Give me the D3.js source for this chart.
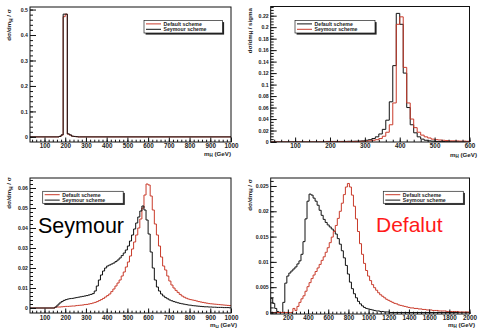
<!DOCTYPE html>
<html><head><meta charset="utf-8">
<script src="https://cdn.jsdelivr.net/npm/d3@7"></script>
<style>
html,body{margin:0;padding:0;background:#fff;}
svg{display:block;font-family:"Liberation Sans",Arial,Helvetica,sans-serif;}
</style></head><body>
<svg id="c" width="479" height="328"></svg>
<script>
// ---------------- DATA ----------------
// Panel 1 (m_H = 200 GeV), 10 GeV bins starting at 160
const p1Start = 160, p1Width = 10;
const p1Default = [0, 0.002, 0.007, 0.472, 0.482, 0.011, 0.007, 0.003, 0.0015, 0.0008, 0];
const p1Seymour = [0, 0.002, 0.008, 0.482, 0.482, 0.012, 0.008, 0.003, 0.002, 0.001, 0];
const p1XTicks = [100,200,300,400,500,600,700,800,900,1000];
const p1YTicks = [0,0.1,0.2,0.3,0.4,0.5];

// Panel 2 (m_H = 400 GeV), 10 GeV bins starting at 190
const p2Start = 190, p2Width = 10;
const p2Default = [0.001,
  0.001,0.001,0.001,0.001,0.001,0.0012,0.0012,0.0014,0.0016,0.002,
  0.003,0.004,0.006,0.009,0.014,0.022,0.038,0.07,0.133,0.224,
  0.205,0.12,0.06,0.03,0.016,0.009,0.005,0.003,0.002,0.0015,
  0.001,0.001,0.0008,0.0006,0.0005,0.0005,0.0004,0.0004,0.0003,0.0003];
const p2Seymour = [0.0005,
  0.0005,0.0005,0.0005,0.0006,0.0006,0.0007,0.0008,0.0009,0.001,0.0012,
  0.0015,0.002,0.003,0.004,0.006,0.01,0.017,0.03,0.068,0.205,
  0.218,0.13,0.068,0.04,0.025,0.017,0.012,0.009,0.007,0.005,
  0.004,0.0035,0.003,0.0025,0.002,0.002,0.0018,0.0015,0.0015,0.0012];
const p2XTicks = [100,200,300,400,500,600];
const p2YTicks = [0,0.02,0.04,0.06,0.08,0.1,0.12,0.14,0.16,0.18,0.2,0.22];

// Panel 3 (m_H = 600 GeV), 10 GeV bins starting at 150
const p3Start = 150, p3Width = 10;
const p3Default = [0.0005,0.0005,0.0005,0.0006,0.0007,
  0.0008,0.0008,0.0009,0.001,0.001,0.0012,0.0013,0.0014,0.0015,0.0017,
  0.0018,0.002,0.0022,0.0025,0.0028,0.0032,0.0037,0.0042,0.0048,0.0055,
  0.0062,0.007,0.0082,0.0095,0.011,0.0125,0.014,0.016,0.018,0.0205,
  0.023,0.026,0.0295,0.033,0.0365,0.04,0.0445,0.05,0.0565,0.062,
  0.0615,0.056,0.049,0.042,0.0365,0.031,0.0255,0.021,0.019,0.016,
  0.0135,0.0115,0.01,0.0088,0.0078,0.0068,0.006,0.0054,0.0049,0.0045,
  0.0042,0.004,0.0038,0.0035,0.0032,0.003,0.0028,0.0026,0.0024,0.0022,
  0.0021,0.002,0.0019,0.0018,0.0017,0.0016,0.0015,0.0014,0.0013,0.0012];
const p3Seymour = [0.0005,0.0015,0.0025,0.0032,0.0038,
  0.0042,0.0045,0.0047,0.0048,0.005,0.0052,0.0054,0.0056,0.0058,0.006,
  0.0062,0.0065,0.0068,0.0072,0.0085,0.011,0.014,0.0165,0.0185,0.02,
  0.021,0.0215,0.022,0.0225,0.0232,0.024,0.025,0.0262,0.0275,0.029,
  0.031,0.0335,0.0365,0.0395,0.0425,0.0455,0.0485,0.051,0.049,0.044,
  0.037,0.028,0.02,0.014,0.0105,0.0085,0.007,0.006,0.0052,0.0046,
  0.004,0.0036,0.0032,0.0029,0.0026,0.0023,0.0021,0.0019,0.0017,0.0015,
  0.0014,0.0012,0.0011,0.001,0.0009,0.0008,0.0007,0.0006,0.0006,0.0005,
  0.0005,0.0004,0.0004,0.0003,0.0003,0.0003,0.0002,0.0002,0.0002,0.0001];
const p3XTicks = [100,200,300,400,500,600,700,800,900,1000];
const p3YTicks = [0,0.01,0.02,0.03,0.04,0.05,0.06];

// Panel 4 (m_H = 800 GeV), 20 GeV bins
const p4Width = 20;
const p4SeymourStart = 30;
const p4Seymour = [0.0028,0.0018,0.0008,0.0002,0,0,0.002,0.0058,0.0072,
  0.0078,0.0082,0.0086,0.009,0.0096,0.0102,0.0115,0.014,0.0185,0.022,
  0.0234,0.0232,0.0226,0.022,0.0212,0.0202,0.0192,0.0184,0.0178,0.0173,
  0.0169,0.0165,0.0161,0.0155,0.0146,0.0135,0.0122,0.0108,0.0093,0.0076,
  0.006,0.0047,0.0037,0.0029,0.0022,0.0017,0.0013,0.001,0.0008,0.0007,
  0.0006,0.0005,0.0004,0.0003,0.0003,0.0002,0.0002,0.0001,0.0001,0.0001];
const p4DefaultStart = 230;
const p4Default = [0,0.0008,0.0004,0.0012,0.002,0.0027,0.0033,0.0042,0.0051,
  0.0059,0.0067,0.0074,0.0081,0.0088,0.0095,0.0103,0.011,0.0119,0.0128,
  0.0138,0.0149,0.016,0.0172,0.0186,0.02,0.0216,0.0233,0.0248,0.0255,
  0.0248,0.0232,0.021,0.0185,0.016,0.0136,0.0115,0.0097,0.0083,0.0072,
  0.0063,0.0055,0.0049,0.0044,0.0039,0.0035,0.0032,0.0029,0.0026,0.0024,
  0.0022,0.002,0.0018,0.0017,0.0015,0.0014,0.0013,0.0012,0.0011,0.001,
  0.0009,0.0009,0.0008,0.0008,0.0007,0.0007,0.0006,0.0006,0.0005,0.0005,
  0.0005,0.0004,0.0004,0.0004,0.0003,0.0003,0.0003,0.0003,0.0002,0.0002,
  0.0002,0.0002,0.0002,0.0002,0.0001,0.0001,0.0001,0.0001,0.0001,0.0001];
const p4XTicks = [200,400,600,800,1000,1200,1400,1600,1800,2000];
const p4YTicks = [0,0.005,0.01,0.015,0.02,0.025];

const legendDefault = "Default scheme", legendSeymour = "Seymour scheme";

// ---------------- DRAWING ----------------
const RED = "#c93b2b", BLACK = "#111";
const svg = d3.select("#c");
svg.append("rect").attr("width",479).attr("height",328).attr("fill","#fff");

function histPoints(start, width, values, xmin, xmax){
  const pts = [[xmin,0]];
  values.forEach((v,i)=>pts.push([start+i*width, v]));
  const end = start + values.length*width;
  if (end < xmax){ pts.push([end,0]); pts.push([xmax,0]); }
  else pts.push([xmax, values[values.length-1]]);
  return pts;
}
const yFmt = d => d===0 ? "0" : String(+d.toFixed(4));

function drawPanel(cfg){
  const g = svg.append("g");
  const x = d3.scaleLinear().domain(cfg.xDomain).range([cfg.x0, cfg.x1]);
  const y = d3.scaleLinear().domain(cfg.yDomain).range([cfg.y1, cfg.y0]);
  const cid = "clip"+cfg.id;
  svg.append("clipPath").attr("id",cid).append("rect")
    .attr("x",cfg.x0).attr("y",cfg.y0).attr("width",cfg.x1-cfg.x0).attr("height",cfg.y1-cfg.y0);
  const line = d3.line().x(d=>x(d[0])).y(d=>y(d[1])).curve(d3.curveStepAfter);
  cfg.series.forEach(s=>{
    g.append("path")
      .attr("d", line(histPoints(s.start, s.width, s.values, cfg.xDomain[0], cfg.xDomain[1])))
      .attr("fill","none").attr("stroke",s.color).attr("stroke-width",1)
      .attr("clip-path",`url(#${cid})`);
  });
  g.append("rect").attr("x",cfg.x0).attr("y",cfg.y0)
    .attr("width",cfg.x1-cfg.x0).attr("height",cfg.y1-cfg.y0)
    .attr("fill","none").attr("stroke","#111").attr("stroke-width",1);

  // x axis major
  const gx = g.append("g").attr("transform",`translate(0,${cfg.y1})`)
    .call(d3.axisBottom(x).tickValues(cfg.xTicks).tickSizeInner(-4.5).tickSizeOuter(0).tickPadding(cfg.xPad).tickFormat(d=>d));
  gx.select(".domain").remove();
  gx.attr("font-family",null).attr("font-size",null);
  gx.selectAll("text").attr("font-size",6.3).attr("font-weight","bold").attr("fill","#222");
  gx.selectAll("line").attr("stroke","#111");
  const gxm = g.append("g").attr("transform",`translate(0,${cfg.y1})`)
    .call(d3.axisBottom(x).tickValues(d3.range(cfg.xMinorStart, cfg.xDomain[1]+1e-9, cfg.xMinor)).tickSizeInner(-2.3).tickSizeOuter(0).tickFormat(""));
  gxm.select(".domain").remove();
  gxm.selectAll("line").attr("stroke","#111");

  // y axis
  const gy = g.append("g").attr("transform",`translate(${cfg.x0},0)`)
    .call(d3.axisLeft(y).tickValues(cfg.yTicks).tickSizeInner(-6).tickSizeOuter(0).tickPadding(2).tickFormat(yFmt));
  gy.select(".domain").remove();
  gy.attr("font-family",null).attr("font-size",null);
  gy.selectAll("text").attr("font-size",5.2).attr("font-weight","bold").attr("fill","#222");
  gy.selectAll("line").attr("stroke","#111");
  const yMin = [];
  for (let v = 0; v <= cfg.yDomain[1]+1e-12; v += cfg.yMinor) yMin.push(+v.toFixed(6));
  const gym = g.append("g").attr("transform",`translate(${cfg.x0},0)`)
    .call(d3.axisLeft(y).tickValues(yMin).tickSizeInner(-3).tickSizeOuter(0).tickFormat(""));
  gym.select(".domain").remove();
  gym.selectAll("line").attr("stroke","#111");

  // x title
  const xt = g.append("text").attr("x",cfg.xTitle[0]).attr("y",cfg.xTitle[1])
    .attr("text-anchor","end").attr("font-size",6.2).attr("font-weight","bold").attr("fill","#222");
  xt.append("tspan").text("m");
  xt.append("tspan").attr("font-size",4.5).attr("dy",1.5).text("H");
  xt.append("tspan").attr("dy",-1.5).text(" (GeV)");

  // y title
  const yt = g.append("text").attr("transform",`translate(${cfg.yTitle[0]},${cfg.yTitle[1]}) rotate(-90)`)
    .attr("text-anchor","end").attr("font-size",6.2).attr("font-weight","bold").attr("fill","#222");
  yt.append("tspan").text("d\u03c3/dm");
  yt.append("tspan").attr("font-size",4.5).attr("dy",1.5).text("H");
  yt.append("tspan").attr("dy",-1.5).text(cfg.yTitleTail);

  // legend
  const L = cfg.legend;
  g.append("rect").attr("x",L.x+1.6).attr("y",L.y+1.6).attr("width",L.w).attr("height",L.h).attr("fill","#222");
  g.append("rect").attr("x",L.x).attr("y",L.y).attr("width",L.w).attr("height",L.h)
    .attr("fill","#fff").attr("stroke","#222").attr("stroke-width",0.7);
  L.entries.forEach((e,i)=>{
    const yy = L.y + 3.4 + i*5.4;
    g.append("line").attr("x1",L.x+2).attr("x2",L.x+17).attr("y1",yy).attr("y2",yy)
      .attr("stroke",e.color).attr("stroke-width",1);
    g.append("text").attr("x",L.x+19.5).attr("y",yy+1.8).attr("font-size",5.2)
      .attr("font-weight","bold").attr("fill","#222").text(e.label);
  });
}

drawPanel({id:1, x0:30, x1:231, y0:7, y1:142, xDomain:[30,1000], yDomain:[-0.02,0.51],
  xTicks:p1XTicks, xMinor:20, xMinorStart:40, yTicks:p1YTicks, yMinor:0.02, xPad:2,
  series:[{start:p1Start,width:p1Width,values:p1Default,color:RED},
          {start:p1Start,width:p1Width,values:p1Seymour,color:BLACK}],
  xTitle:[231,155.5], yTitle:[11,9], yTitleTail:" / \u03c3",
  legend:{x:144,y:20.5,w:78.5,h:12.5,entries:[{label:legendDefault,color:RED},{label:legendSeymour,color:BLACK}]}});

drawPanel({id:2, x0:270.7, x1:469.5, y0:6.5, y1:142, xDomain:[30,600], yDomain:[0,0.236],
  xTicks:p2XTicks, xMinor:20, xMinorStart:40, yTicks:p2YTicks, yMinor:0.005, xPad:2,
  series:[{start:p2Start,width:p2Width,values:p2Default,color:BLACK},
          {start:p2Start,width:p2Width,values:p2Seymour,color:RED}],
  xTitle:[477,156.5], yTitle:[251.5,8], yTitleTail:" / sigma",
  legend:{x:295,y:20.5,w:80,h:12.5,entries:[{label:legendDefault,color:BLACK},{label:legendSeymour,color:RED}]}});

drawPanel({id:3, x0:30, x1:231, y0:178, y1:313, xDomain:[30,1000], yDomain:[-0.0025,0.065],
  xTicks:p3XTicks, xMinor:20, xMinorStart:40, yTicks:p3YTicks, yMinor:0.002, xPad:2.5,
  series:[{start:p3Start,width:p3Width,values:p3Default,color:RED},
          {start:p3Start,width:p3Width,values:p3Seymour,color:BLACK}],
  xTitle:[237,327], yTitle:[11,177], yTitleTail:" / \u03c3",
  legend:{x:42.7,y:191.3,w:80.5,h:12,entries:[{label:legendDefault,color:RED},{label:legendSeymour,color:BLACK}]}});

drawPanel({id:4, x0:270.7, x1:469.5, y0:178, y1:314, xDomain:[30,2000], yDomain:[-0.0003,0.02658],
  xTicks:p4XTicks, xMinor:40, xMinorStart:40, yTicks:p4YTicks, yMinor:0.001, xPad:2,
  series:[{start:p4SeymourStart,width:p4Width,values:p4Seymour,color:BLACK},
          {start:p4DefaultStart,width:p4Width,values:p4Default,color:RED}],
  xTitle:[475,326.5], yTitle:[251.5,179], yTitleTail:" / \u03c3",
  legend:{x:383.3,y:191.3,w:80,h:12,entries:[{label:legendDefault,color:RED},{label:legendSeymour,color:BLACK}]}});

// annotations
svg.append("text").attr("x",38).attr("y",232.5).attr("font-size",21.5).attr("fill","#000").text("Seymour");
svg.append("text").attr("x",376).attr("y",232).attr("font-size",21).attr("fill","#ff1a1a").text("Defalut");
</script>
</body></html>
